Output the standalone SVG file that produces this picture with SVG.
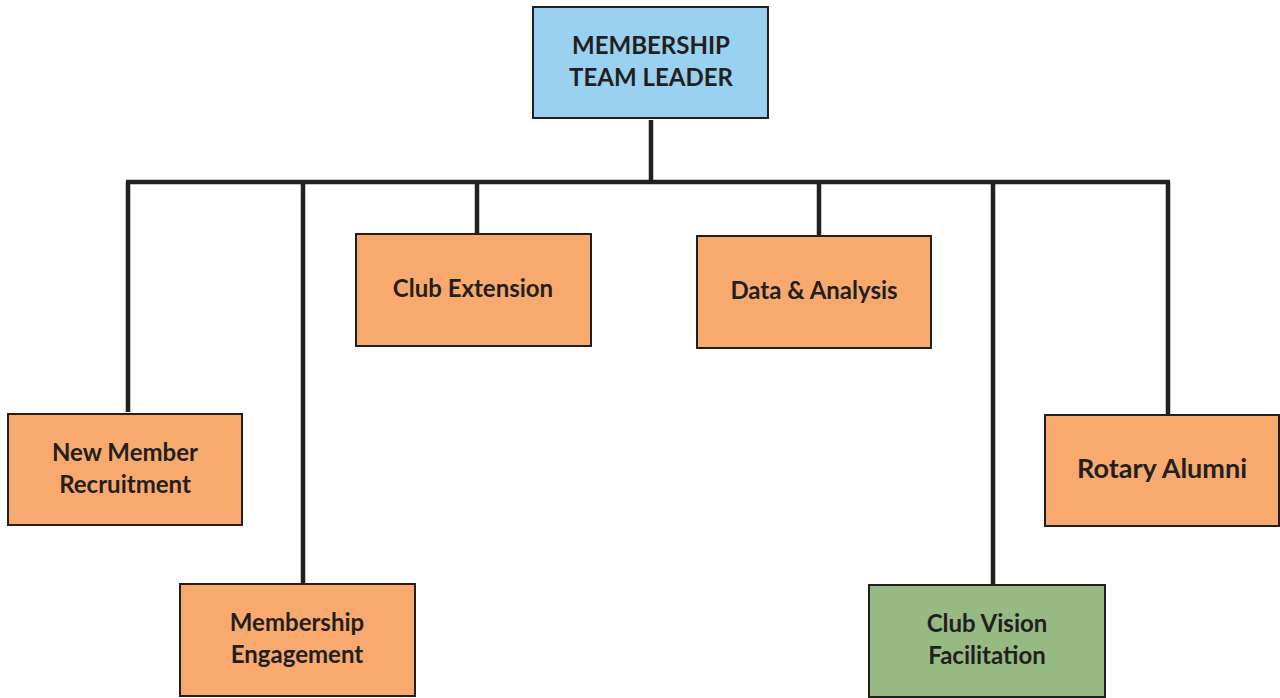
<svg xmlns="http://www.w3.org/2000/svg" width="1280" height="698" viewBox="0 0 1280 698">
<style>
.box{stroke:#231f20;stroke-width:2}
.orange{fill:#f8aa6e}
.blue{fill:#9ad0f0}
.green{fill:#97b982}
.conn{stroke:#231f20;stroke-width:4.5;fill:none}
text{font-family:Lato,"Open Sans","Liberation Sans",sans-serif;font-weight:bold;font-size:24px;fill:#231f20;text-anchor:middle}
.big{font-size:27px}
</style>
<rect width="1280" height="698" fill="#ffffff"/>
<g id="connectors">
<line class="conn" x1="651" y1="120" x2="651" y2="182"/>
<line class="conn" x1="126" y1="182" x2="1170" y2="182"/>
<line class="conn" x1="128" y1="182" x2="128" y2="412"/>
<line class="conn" x1="303" y1="182" x2="303" y2="584"/>
<line class="conn" x1="477" y1="182" x2="477" y2="234"/>
<line class="conn" x1="819" y1="182" x2="819" y2="239"/>
<line class="conn" x1="993" y1="182" x2="993" y2="585"/>
<line class="conn" x1="1168" y1="182" x2="1168" y2="415"/>
</g>
<g id="team-leader">
<rect class="box blue" x="533" y="7" width="235" height="111"/>
<text x="651" y="54">MEMBERSHIP</text>
<text x="651" y="86">TEAM LEADER</text>
</g>
<g id="new-member-recruitment">
<rect class="box orange" x="8" y="414" width="234" height="111"/>
<text x="125" y="461">New Member</text>
<text x="125" y="493">Recruitment</text>
</g>
<g id="membership-engagement">
<rect class="box orange" x="180" y="584" width="235" height="112"/>
<text x="297" y="631">Membership</text>
<text x="297" y="663">Engagement</text>
</g>
<g id="club-extension">
<rect class="box orange" x="356" y="234" width="235" height="112"/>
<text x="473" y="297">Club Extension</text>
</g>
<g id="data-analysis">
<rect class="box orange" x="697" y="236" width="234" height="112"/>
<text x="814" y="299">Data &amp; Analysis</text>
</g>
<g id="rotary-alumni">
<rect class="box orange" x="1045" y="415" width="234" height="111"/>
<text class="big" x="1162" y="478">Rotary Alumni</text>
</g>
<g id="club-vision-facilitation">
<rect class="box green" x="869" y="585" width="236" height="112"/>
<text x="987" y="632">Club Vision</text>
<text x="987" y="664">Facilitation</text>
</g>
</svg>
